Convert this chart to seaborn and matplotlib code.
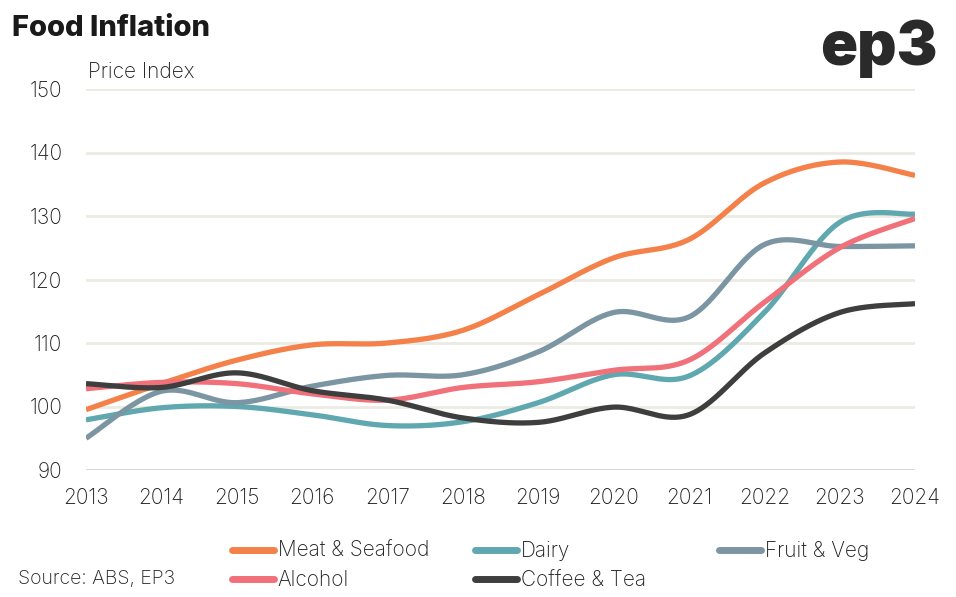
import numpy as np
import pandas as pd
import matplotlib
matplotlib.use("Agg")
import matplotlib.pyplot as plt
from matplotlib.lines import Line2D
import seaborn as sns

years = [2013, 2014, 2015, 2016, 2017, 2018, 2019, 2020, 2021, 2022, 2023, 2024]
meat_seafood = [99.5, 103.6, 107.3, 109.7, 110.0, 112.0, 117.6, 123.4, 126.3, 135.2, 138.5, 136.4]
dairy = [97.9, 99.8, 100.0, 98.7, 97.0, 97.6, 100.6, 105.0, 104.8, 114.8, 129.0, 130.3]
fruit_veg = [95.0, 102.4, 100.6, 103.2, 104.9, 105.0, 108.6, 114.8, 114.1, 125.5, 125.2, 125.3]
alcohol = [102.8, 103.8, 103.6, 102.0, 101.0, 103.0, 103.9, 105.7, 107.3, 116.4, 125.0, 129.6]
coffee_tea = [103.6, 103.0, 105.3, 102.5, 101.0, 98.2, 97.5, 99.9, 98.7, 108.4, 114.8, 116.2]

series_names = ["Meat & Seafood", "Dairy", "Fruit & Veg", "Alcohol", "Coffee & Tea"]
series_values = [meat_seafood, dairy, fruit_veg, alcohol, coffee_tea]
colors = ["#F4804A", "#5FA8B0", "#7B95A2", "#F0717A", "#3E3E3F"]

y_ticks = [90, 100, 110, 120, 130, 140, 150]

sns.set_theme(style="white")
plt.rcParams["font.family"] = ["Inter", "DejaVu Sans"]


def smooth(xs, ys, n=40):
    """Catmull-Rom (Excel-style) smoothing through the data points."""
    xs = np.asarray(xs, float)
    ys = np.asarray(ys, float)
    px = np.concatenate([[xs[0]], xs, [xs[-1]]])
    py = np.concatenate([[ys[0]], ys, [ys[-1]]])
    ox, oy = [], []
    for i in range(1, len(px) - 2):
        p0x, p1x, p2x, p3x = px[i - 1], px[i], px[i + 1], px[i + 2]
        p0y, p1y, p2y, p3y = py[i - 1], py[i], py[i + 1], py[i + 2]
        c1x, c1y = p1x + (p2x - p0x) / 6, p1y + (p2y - p0y) / 6
        c2x, c2y = p2x - (p3x - p1x) / 6, p2y - (p3y - p1y) / 6
        t = np.linspace(0, 1, n, endpoint=(i == len(px) - 3))
        b0, b1, b2, b3 = (1 - t) ** 3, 3 * (1 - t) ** 2 * t, 3 * (1 - t) * t ** 2, t ** 3
        ox.append(b0 * p1x + b1 * c1x + b2 * c2x + b3 * p2x)
        oy.append(b0 * p1y + b1 * c1y + b2 * c2y + b3 * p2y)
    return np.concatenate(ox), np.concatenate(oy)


rows = []
for name, vals in zip(series_names, series_values):
    sx, sy = smooth(years, vals)
    rows.append(pd.DataFrame({"Year": sx, "Index": sy, "Series": name}))
df = pd.concat(rows, ignore_index=True)

fig = plt.figure(figsize=(9.56, 5.97), dpi=100)
ax = fig.add_axes([86 / 956, 1 - 470 / 597, (915 - 86) / 956, (470 - 89) / 597])

for yv in y_ticks[1:]:
    ax.axhline(yv, color="#EBEBE2", lw=2, zorder=0)
ax.axhline(90, color="#D4D4D4", lw=2, zorder=0)

sns.lineplot(data=df, x="Year", y="Index", hue="Series", hue_order=series_names,
             palette=colors, linewidth=3.8, sort=False, legend=False, ax=ax,
             solid_capstyle="butt")

ax.set_xlim(2013, 2024)
ax.set_ylim(90, 150)
ax.set_xticks(years)
ax.set_xticklabels([str(y) for y in years])
ax.set_yticks(y_ticks)
ax.set_yticklabels([str(y) for y in y_ticks])
ax.tick_params(axis="x", length=0, pad=13, labelsize=15, labelcolor="#1f1f1f")
ax.tick_params(axis="y", length=0, pad=17, labelsize=15, labelcolor="#1f1f1f")
for lab in ax.get_xticklabels() + ax.get_yticklabels():
    lab.set_fontweight("light")
ax.set_xlabel("")
ax.set_ylabel("")
for s in ax.spines.values():
    s.set_visible(False)

fig.text(12 / 956, 1 - 28 / 597, "Food Inflation", fontsize=21, fontweight="heavy",
         color="#1a1a1a", va="center", ha="left")
fig.text(88 / 956, 1 - 72 / 597, "Price Index", fontsize=15, fontweight="light",
         color="#1f1f1f", va="center", ha="left")
fig.text(938 / 956, 1 - 49 / 597, "ep3", fontsize=44, fontweight="black",
         color="#2a2a2a", va="center", ha="right")
fig.text(18 / 956, 1 - 579 / 597, "Source: ABS, EP3", fontsize=14, fontweight="light",
         color="#1f1f1f", va="center", ha="left")

handles = {n: Line2D([0], [0], color=c, lw=5, solid_capstyle="round")
           for n, c in zip(series_names, colors)}
legend_columns = [(232, ["Meat & Seafood", "Alcohol"]),
                  (475, ["Dairy", "Coffee & Tea"]),
                  (719, ["Fruit & Veg"])]
for x0, names in legend_columns:
    leg = fig.legend([handles[n] for n in names], names, loc="upper left",
                     bbox_to_anchor=(x0 / 956, 1 - 541 / 597), ncol=1, frameon=False,
                     fontsize=15, handlelength=2.0, handletextpad=0.2,
                     labelspacing=0.45, borderpad=0, borderaxespad=0)
    for t in leg.get_texts():
        t.set_color("#1f1f1f")
        t.set_fontweight("light")

fig.savefig("out.png", dpi=100)
